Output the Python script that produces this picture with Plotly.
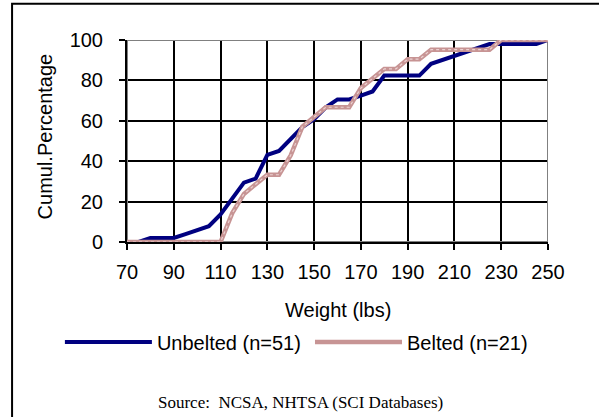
import plotly.graph_objects as go

# weight classes (lbs)
weights = [70, 75, 80, 85, 90, 95, 100, 105, 110, 115, 120, 125, 130, 135,
           140, 145, 150, 155, 160, 165, 170, 175, 180, 185, 190, 195, 200,
           205, 210, 215, 220, 225, 230, 235, 240, 245, 250]

# cumulative percentages
unbelted = [0, 0, 2.0, 2.0, 2.0, 3.9, 5.9, 7.8, 13.7, 21.6, 29.4, 31.4, 43.1,
            45.1, 51.0, 56.9, 60.8, 66.7, 70.6, 70.6, 72.5, 74.5, 82.4, 82.4,
            82.4, 82.4, 88.2, 90.2, 92.2, 94.1, 96.1, 98.0, 98.0, 98.0, 98.0,
            98.0, 100]
belted = [0, 0, 0, 0, 0, 0, 0, 0, 0, 14.3, 23.8, 28.6, 33.3, 33.3, 42.9,
          57.1, 61.9, 66.7, 66.7, 66.7, 76.2, 81.0, 85.7, 85.7, 90.5, 90.5,
          95.2, 95.2, 95.2, 95.2, 95.2, 95.2, 100, 100, 100, 100, 100]

x_ticks = [70, 90, 110, 130, 150, 170, 190, 210, 230, 250]
y_ticks = [0, 20, 40, 60, 80, 100]

NAVY = "#000080"
ROSE = "#c79494"
ROSE_LIGHT = "#ecd2d2"
FONT = "Liberation Sans, Arial, sans-serif"

fig = go.Figure()
fig.add_trace(go.Scatter(x=weights, y=unbelted, mode="lines", name="Unbelted (n=51)",
                         line=dict(color=NAVY, width=4), legend="legend"))
fig.add_trace(go.Scatter(x=weights, y=belted, mode="lines", name="Belted (n=21)",
                         line=dict(color=ROSE, width=4.5), legend="legend2"))
# light speckle on the belted line
fig.add_trace(go.Scatter(x=weights, y=belted, mode="lines", showlegend=False,
                         hoverinfo="skip",
                         line=dict(color=ROSE_LIGHT, width=1.2, dash="dot")))

axis_common = dict(
    showgrid=True, gridcolor="black", gridwidth=2,
    showline=True, linecolor="black", linewidth=2,
    ticks="outside", ticklen=6, tickwidth=2, tickcolor="black",
    zeroline=False, tickfont=dict(size=20, color="black"),
)

fig.update_xaxes(range=[70, 250], tickvals=x_ticks, ticklabelstandoff=5, **axis_common)
fig.update_yaxes(range=[0, 100], tickvals=y_ticks, ticklabelstandoff=12, **axis_common)

# axis titles
fig.add_annotation(text="Weight (lbs)", xref="paper", yref="paper", x=0.5, y=-0.335,
                   xanchor="center", yanchor="middle", showarrow=False,
                   font=dict(size=20, color="black"))
fig.add_annotation(text="Cumul.Percentage", xref="paper", yref="paper", x=-0.196, y=0.525,
                   xanchor="center", yanchor="middle", showarrow=False, textangle=-90,
                   font=dict(size=20, color="black"))

# grey plot-area frame on top / right
fig.add_shape(type="rect", xref="x", yref="y", x0=70, x1=250, y0=0, y1=100,
              line=dict(color="#808080", width=2), layer="between")
# outer chart border (cropped at right/bottom)
fig.add_shape(type="rect", xref="paper", yref="paper",
              x0=-0.273, x1=1.2, y0=-1.0, y1=1.18,
              line=dict(color="black", width=2), layer="above")

fig.add_annotation(text="Source:  NCSA, NHTSA (SCI Databases)",
                   xref="paper", yref="paper", x=0.411, y=-0.794,
                   xanchor="center", yanchor="middle", showarrow=False,
                   font=dict(family="Liberation Serif, Times New Roman, serif", size=17, color="black"))

legend_common = dict(orientation="h", xref="container", yref="container",
                     y=0.18, xanchor="left", yanchor="middle",
                     font=dict(size=20, color="black"), itemwidth=87,
                     bgcolor="rgba(0,0,0,0)")

fig.update_layout(
    width=599, height=417,
    margin=dict(l=127, r=51, t=40, b=175, autoexpand=False),
    paper_bgcolor="white", plot_bgcolor="white",
    font=dict(family=FONT, color="black"),
    showlegend=True,
    legend=dict(x=0.1, **legend_common),
    legend2=dict(x=0.5175, **legend_common),
)

fig.write_html("out.html", config={"displayModeBar": False},
               post_script="document.body.style.margin='0';")
